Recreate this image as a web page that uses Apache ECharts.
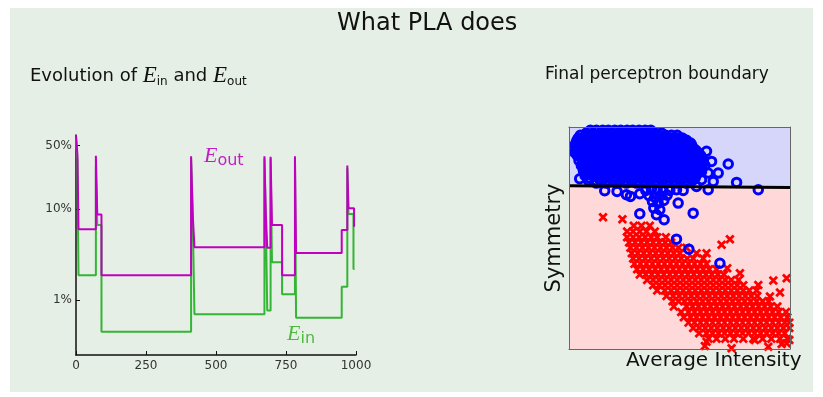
<!DOCTYPE html>
<html><head><meta charset="utf-8">
<script src="https://cdn.jsdelivr.net/npm/echarts@6/dist/echarts.min.js"></script>
<style>html,body{margin:0;padding:0;background:#fff}#c{width:823px;height:397px}</style>
</head><body><div id="c"></div>
<script>
// ---- left panel: PLA error evolution (step changes) ----
const iterTicks = [0, 250, 500, 750, 1000];
const errTicks = [0.01, 0.1, 0.5];
const einIters  = [0, 5, 9, 71, 76, 91, 411, 417, 423, 673, 678, 683, 695, 700, 736, 782, 786, 949, 969, 973, 991, 995];
const einValues = [0.60, 0.35, 0.0188, 0.29, 0.067, 0.0045, 0.36, 0.08, 0.0070, 0.36, 0.075, 0.0077, 0.36, 0.026, 0.0116, 0.36, 0.0064, 0.014, 0.28, 0.088, 0.022, 0.022];
const eoutIters  = [0, 5, 9, 71, 76, 91, 411, 417, 423, 673, 678, 683, 695, 700, 736, 782, 786, 949, 969, 973, 993, 995];
const eoutValues = [0.65, 0.40, 0.060, 0.385, 0.087, 0.0188, 0.38, 0.086, 0.038, 0.38, 0.087, 0.0376, 0.376, 0.067, 0.0188, 0.38, 0.033, 0.059, 0.30, 0.102, 0.064, 0.064];

// ---- right panel: digits features (intensity, symmetry) ----
// rows: [symmetry, intensity, intensity, ...]
const blueRows = [
 [-0.62, .152,.170,.189,.206,.225,.243,.262,.279,.298,.316,.333],
 [-0.70, .140,.160,.180,.198,.216,.235,.253,.271,.290,.308,.327,.345,.365],
 [-0.77, .122,.141,.158,.177,.195,.213,.232,.249,.268,.286,.304,.322,.340,.359,.377,.395,.412],
 [-0.85, .116,.135,.154,.172,.190,.209,.227,.245,.264,.282,.300,.318,.336,.355,.373,.391,.409,.427],
 [-0.92, .112,.130,.149,.167,.185,.204,.222,.240,.258,.277,.295,.313,.331,.350,.368,.386,.404,.422,.440],
 [-1.00, .109,.127,.145,.163,.181,.199,.218,.236,.254,.272,.290,.309,.327,.345,.363,.381,.400,.418,.436,.452],
 [-1.07, .106,.121,.140,.158,.176,.194,.213,.231,.249,.267,.286,.304,.322,.340,.359,.377,.395,.413,.431,.449],
 [-1.15, .116,.134,.152,.170,.188,.206,.225,.243,.261,.279,.297,.316,.334,.352,.370,.388,.406,.425,.443,.460],
 [-1.22, .110,.129,.147,.165,.183,.202,.220,.238,.256,.275,.293,.311,.329,.347,.366,.384,.402,.420,.438,.456,.468],
 [-1.30, .118,.136,.154,.172,.190,.208,.227,.245,.263,.281,.299,.318,.336,.354,.372,.390,.408,.427,.445,.462,.476],
 [-1.37, .113,.122,.140,.158,.176,.195,.213,.231,.249,.268,.286,.304,.322,.340,.358,.377,.395,.413,.431,.449,.467,.482],
 [-1.45, .125,.145,.163,.181,.199,.217,.236,.254,.272,.290,.308,.327,.345,.363,.381,.399,.417,.436,.454,.472,.486],
 [-1.52, .118,.131,.149,.167,.185,.204,.222,.240,.258,.277,.295,.313,.331,.349,.368,.386,.404,.422,.440,.458,.476,.490],
 [-1.60, .128,.146,.164,.182,.200,.218,.237,.255,.273,.291,.309,.328,.346,.364,.382,.400,.418,.437,.455,.473,.490],
 [-1.67, .125,.140,.158,.176,.194,.213,.231,.249,.267,.286,.304,.322,.340,.358,.377,.395,.413,.431,.449,.467,.485,.495],
 [-1.75, .135,.154,.172,.190,.208,.226,.245,.263,.281,.299,.317,.336,.354,.372,.390,.408,.426,.445,.463,.482],
 [-1.82, .131,.149,.167,.185,.204,.222,.240,.258,.276,.295,.313,.331,.349,.367,.386,.404,.422,.440,.458,.478],
 [-1.90, .140,.165,.183,.201,.219,.237,.256,.274,.292,.310,.328,.347,.365,.383,.401,.419,.437,.456,.474],
 [-1.97, .136,.158,.176,.194,.213,.231,.249,.267,.286,.304,.322,.340,.358,.377,.395,.413,.431,.449,.468],
 [-2.05, .150,.176,.194,.212,.230,.248,.267,.285,.303,.321,.339,.358,.376,.394,.412,.430,.448,.466],
 [-2.12, .146,.167,.185,.204,.222,.240,.258,.276,.295,.313,.331,.349,.367,.386,.404,.422,.440,.458],
 [-2.20, .170,.200,.230,.260,.290,.320,.350,.380,.410,.440]
];
const blueExtra = [
 [.195,-2.43],[.232,-2.45],[.260,-2.55],[.272,-2.60],[.300,-2.52],[.318,-2.42],[.335,-2.38],[.352,-2.40],
 [.370,-2.44],[.390,-2.42],[.410,-2.40],[.430,-2.42],[.328,-2.58],[.345,-2.62],[.362,-2.58],[.382,-2.56],
 [.338,-2.75],[.355,-2.80],[.372,-2.72],[.342,-2.95],[.360,-3.00],[.350,-3.15],[.300,-3.12],[.373,-3.30],
 [.415,-2.80],[.460,-3.10],[.410,-3.88],[.447,-4.18],[.540,-4.60],[.505,-2.40],[.470,-2.30],[.520,-2.15],
 [.535,-1.90],[.565,-1.63],[.590,-2.18],[.655,-2.40],[.515,-1.55],[.500,-1.25],[.455,-1.05],[.430,-0.88],
 [.105,-1.28],[.120,-2.07],[.485,-2.10],[.460,-1.90],[.470,-1.60],[.485,-1.85],[.505,-1.90]
];
const redRows = [
 [-3.48, .282,.305,.330],
 [-3.65, .262,.280,.300,.320,.345],
 [-3.82, .262,.280,.298,.316,.334,.352,.378],
 [-3.98, .268,.286,.304,.322,.340,.358,.376,.394],
 [-4.14, .272,.290,.308,.326,.344,.362,.380,.398,.416,.440],
 [-4.30, .276,.294,.312,.330,.348,.366,.384,.402,.420,.470,.500],
 [-4.46, .280,.298,.316,.334,.352,.370,.388,.406,.424,.442,.460,.490],
 [-4.62, .284,.302,.320,.338,.356,.374,.392,.410,.428,.446,.464,.482,.500],
 [-4.78, .292,.310,.328,.346,.364,.382,.400,.418,.436,.454,.472,.490,.508,.530],
 [-4.94, .300,.318,.336,.354,.372,.390,.408,.426,.444,.462,.480,.498,.516,.534,.552],
 [-5.10, .322,.340,.358,.376,.394,.412,.430,.448,.466,.484,.502,.520,.538,.556,.574,.596],
 [-5.26, .340,.358,.376,.394,.412,.430,.448,.466,.484,.502,.520,.538,.556,.574,.592,.610],
 [-5.42, .352,.375,.394,.412,.430,.448,.466,.484,.502,.520,.538,.556,.574,.592,.610,.628,.650],
 [-5.58, .380,.400,.418,.436,.454,.472,.490,.508,.526,.544,.562,.580,.598,.616,.634,.652],
 [-5.74, .398,.416,.434,.452,.470,.488,.506,.524,.542,.560,.578,.596,.614,.632,.650,.668,.686],
 [-5.90, .402,.440,.458,.476,.494,.512,.530,.548,.566,.584,.602,.620,.638,.656,.674,.692,.712],
 [-6.06, .424,.446,.464,.482,.500,.518,.536,.554,.572,.590,.608,.626,.644,.662,.680,.698,.716,.738],
 [-6.22, .432,.452,.470,.488,.506,.524,.542,.560,.578,.596,.614,.632,.650,.668,.686,.704,.722,.742],
 [-6.38, .446,.464,.482,.500,.518,.536,.554,.572,.590,.608,.626,.644,.662,.680,.698,.716,.734,.748],
 [-6.54, .460,.478,.496,.514,.532,.550,.568,.586,.604,.622,.640,.658,.676,.694,.712,.730,.748],
 [-6.70, .478,.500,.518,.536,.554,.572,.590,.608,.626,.644,.662,.680,.698,.716,.734],
 [-6.86, .506,.530,.556,.582,.610,.640,.668,.694,.720,.742]
];
const redExtra = [
 [.120,-0.88],[.190,-3.22],[.248,-3.28],[.545,-4.05],[.570,-3.88],[.600,-4.90],[.562,-4.75],[.700,-5.12],
 [.740,-5.05],[.655,-5.25],[.720,-5.48],[.690,-5.60],[.575,-7.15],[.685,-7.10],[.740,-7.00],[.500,-6.95],
 [.645,-6.90],[.495,-7.08],[.725,-7.02],[.748,-6.90]
];
const boundary = [[0.088, -2.28], [0.750, -2.33]];

function rowsToPoints(rows) {
  const pts = [];
  rows.forEach(r => { for (let i = 1; i < r.length; i++) pts.push([r[i], r[0]]); });
  return pts;
}
const bluePts = rowsToPoints(blueRows).concat(blueExtra);
const redPts = rowsToPoints(redRows).concat(redExtra);
const einData = einIters.map((x, i) => [x, einValues[i]]);
const eoutData = eoutIters.map((x, i) => [x, eoutValues[i]]);

const SANS = '"DejaVu Sans", sans-serif';
const SERIF = '"Liberation Serif", serif';
const N = 'normal';

const chart = echarts.init(document.getElementById('c'), null, {renderer: 'canvas'});
chart.setOption({
  animation: false,
  backgroundColor: '#ffffff',
  graphic: [
    {type: 'rect', z: -10, silent: true, shape: {x: 10, y: 8, width: 803, height: 384}, style: {fill: '#e5efe5'}},
    {type: 'text', left: 626, top: 351, silent: true, style: {text: 'Average Intensity', font: '20px ' + SANS, fill: '#111'}}
  ],
  title: [
    {text: 'What PLA does', left: 337, top: 12, padding: 0, textStyle: {fontFamily: SANS, fontSize: 24, fontWeight: N, color: '#111'}},
    {text: '{a|Evolution of }{e|E}{s|in}{a| and }{e|E}{s|out}', left: 30, top: 64, padding: 0,
     textStyle: {fontWeight: N, rich: {
       a: {fontFamily: SANS, fontSize: 18, fontWeight: N, color: '#111', lineHeight: 24, verticalAlign: 'middle'},
       e: {fontFamily: SERIF, fontStyle: 'italic', fontWeight: N, fontSize: 23, color: '#111', lineHeight: 24, verticalAlign: 'middle'},
       s: {fontFamily: SANS, fontSize: 12, fontWeight: N, color: '#111', lineHeight: 13, verticalAlign: 'bottom'}
     }}},
    {text: 'Final perceptron boundary', left: 545, top: 66, padding: 0, textStyle: {fontFamily: SANS, fontSize: 17, fontWeight: N, color: '#111'}},
    {text: '{e|E}{s|out}', left: 204, top: 143, padding: 0,
     textStyle: {fontWeight: N, rich: {
       e: {fontFamily: SERIF, fontStyle: 'italic', fontWeight: N, fontSize: 22, color: '#c21fc2', lineHeight: 26, verticalAlign: 'middle'},
       s: {fontFamily: SANS, fontSize: 16, fontWeight: N, color: '#c21fc2', lineHeight: 18, verticalAlign: 'bottom'}
     }}},
    {text: '{e|E}{s|in}', left: 287, top: 321, padding: 0,
     textStyle: {fontWeight: N, rich: {
       e: {fontFamily: SERIF, fontStyle: 'italic', fontWeight: N, fontSize: 22, color: '#4cbb3c', lineHeight: 26, verticalAlign: 'middle'},
       s: {fontFamily: SANS, fontSize: 16, fontWeight: N, color: '#4cbb3c', lineHeight: 16, verticalAlign: 'bottom'}
     }}}
  ],
  grid: [
    {left: 76, top: 135, width: 280, height: 220},
    {left: 569, top: 127, width: 221, height: 222}
  ],
  xAxis: [
    {gridIndex: 0, type: 'value', min: 0, max: 1000, interval: 250,
     axisLine: {lineStyle: {color: '#111', width: 1.5}},
     axisTick: {inside: true, length: 4, lineStyle: {color: '#111'}},
     axisLabel: {fontFamily: SANS, fontSize: 12, color: '#333', margin: 5, formatter: v => String(v)},
     splitLine: {show: false}},
    {gridIndex: 1, type: 'value', min: 0.088, max: 0.750, z: 10,
     axisLine: {show: true, onZero: false, lineStyle: {color: '#666', width: 1}},
     axisTick: {show: false}, axisLabel: {show: false}, splitLine: {show: false}},
    {gridIndex: 1, type: 'value', position: 'top', min: 0.088, max: 0.750, z: 10,
     axisLine: {show: true, onZero: false, lineStyle: {color: '#666', width: 1}},
     axisTick: {show: false}, axisLabel: {show: false}, splitLine: {show: false}}
  ],
  yAxis: [
    {gridIndex: 0, type: 'log', logBase: 10, min: 0.0025, max: 0.65,
     axisLine: {show: true, lineStyle: {color: '#111', width: 1.5}},
     axisTick: {show: true, inside: true, length: 4, customValues: errTicks, lineStyle: {color: '#111'}},
     axisLabel: {customValues: errTicks, fontFamily: SANS, fontSize: 12, color: '#333', margin: 4,
       formatter: v => Math.round(v * 100) + '%'},
     splitLine: {show: false}, minorTick: {show: false}},
    {gridIndex: 1, type: 'value', min: -7.17, max: -0.52, z: 10,
     name: 'Symmetry', nameLocation: 'middle', nameGap: 4,
     nameTextStyle: {fontFamily: SANS, fontSize: 21, color: '#111'},
     axisLine: {show: true, onZero: false, lineStyle: {color: '#666', width: 1}},
     axisTick: {show: false}, axisLabel: {show: false}, splitLine: {show: false}},
    {gridIndex: 1, type: 'value', position: 'right', min: -7.17, max: -0.52, z: 10,
     axisLine: {show: true, onZero: false, lineStyle: {color: '#666', width: 1}},
     axisTick: {show: false}, axisLabel: {show: false}, splitLine: {show: false}}
  ],
  series: [
    {type: 'line', xAxisIndex: 0, yAxisIndex: 0, step: 'end', data: einData, symbol: 'none',
     lineStyle: {color: '#35b535', width: 2}, z: 3, silent: true},
    {type: 'line', xAxisIndex: 0, yAxisIndex: 0, step: 'end', data: eoutData, symbol: 'none',
     lineStyle: {color: '#c000c0', width: 2}, z: 4, silent: true},
    {type: 'line', xAxisIndex: 1, yAxisIndex: 1, data: boundary, symbol: 'none',
     lineStyle: {width: 0, opacity: 0}, areaStyle: {origin: 'end', color: '#d6d6fb', opacity: 1}, z: 1, silent: true},
    {type: 'line', xAxisIndex: 1, yAxisIndex: 1, data: boundary, symbol: 'none',
     lineStyle: {width: 0, opacity: 0}, areaStyle: {origin: 'start', color: '#ffd9d9', opacity: 1}, z: 1, silent: true},
    {type: 'scatter', xAxisIndex: 1, yAxisIndex: 1, data: redPts,
     symbol: 'path://M0,0L10,10M10,0L0,10', symbolSize: 7.5,
     itemStyle: {color: 'rgba(0,0,0,0)', borderColor: '#ff0000', borderWidth: 2.8, opacity: 1}, z: 3, silent: true},
    {type: 'scatter', xAxisIndex: 1, yAxisIndex: 1, data: bluePts,
     symbol: 'circle', symbolSize: 8.5,
     itemStyle: {color: 'rgba(0,0,0,0)', borderColor: '#0000ff', borderWidth: 3, opacity: 1}, z: 4, silent: true},
    {type: 'line', xAxisIndex: 1, yAxisIndex: 1, data: boundary, symbol: 'none',
     lineStyle: {color: '#000', width: 3}, z: 5, silent: true}
  ]
});
</script></body></html>
